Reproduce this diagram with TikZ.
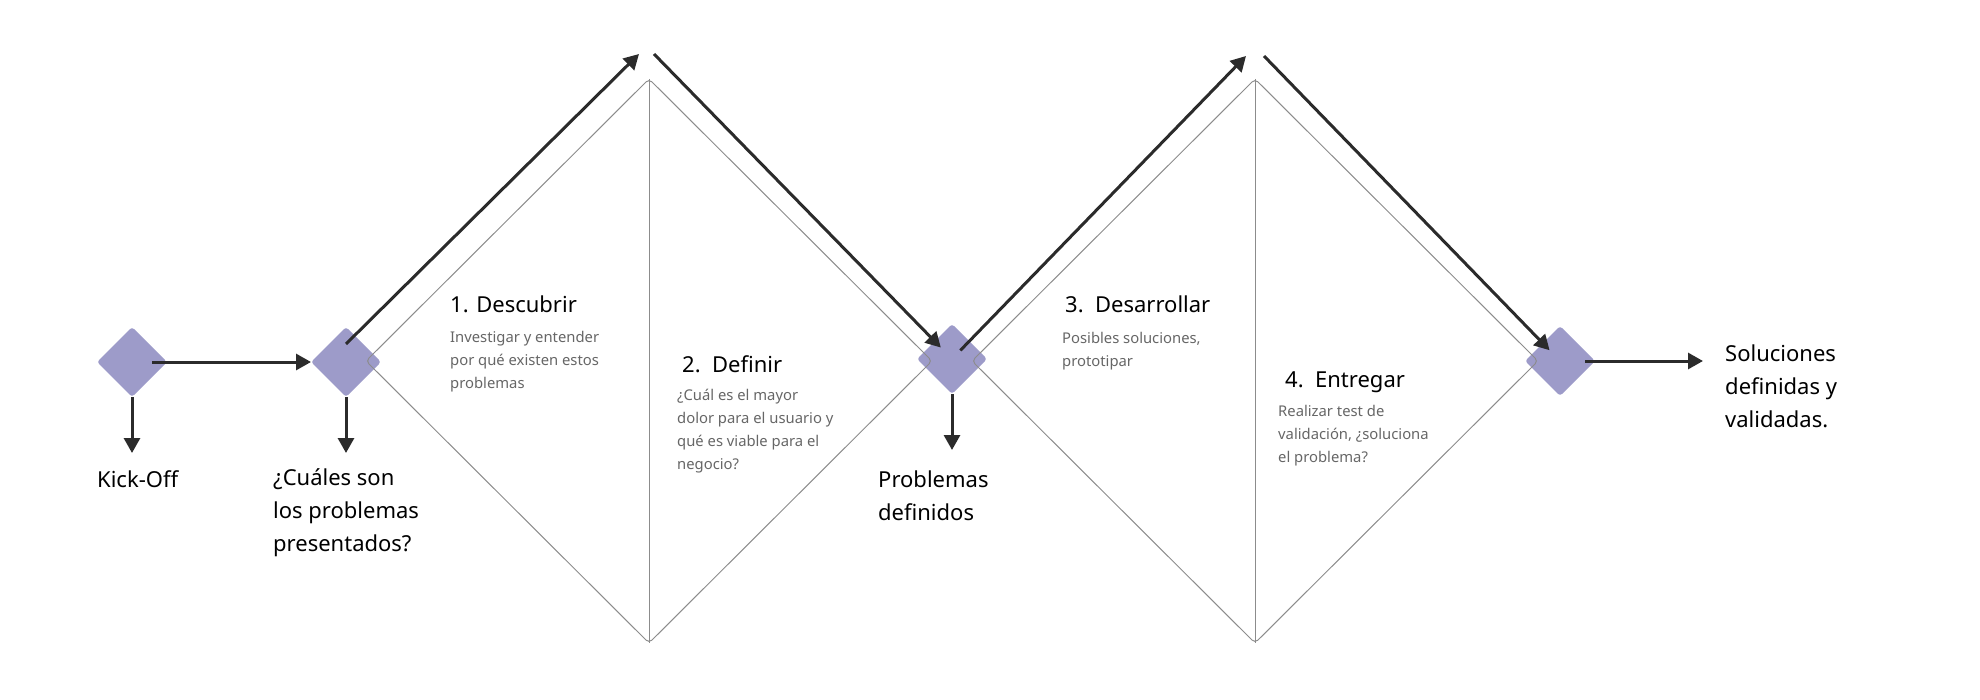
\documentclass[tikz,border=0pt]{standalone}
\usepackage{fontspec}
\setmainfont{Noto Sans}
\usetikzlibrary{shapes.geometric,arrows.meta,positioning}
\definecolor{ink}{HTML}{2B2B2B}
\definecolor{lav}{HTML}{9D9BC9}
\definecolor{rim}{HTML}{8C8C8C}
\definecolor{muted}{HTML}{666666}

\begin{document}
\begin{tikzpicture}[x=1pt, y=-1pt,
    gate/.style={diamond, aspect=1, fill=lav, minimum width=70pt, minimum height=70pt,
                 inner sep=0pt, outer sep=0pt, rounded corners=3pt},
    phase/.style={diamond, aspect=1, draw=rim, line width=1pt, minimum width=566pt,
                  minimum height=564pt, inner sep=0pt, outer sep=0pt, rounded corners=4pt},
    flow/.style={draw=ink, line width=3pt, -{Triangle[length=15pt,width=16pt]}},
    head/.style={font=\fontsize{22}{26}\selectfont, inner sep=0pt, text height=16pt,
                 text depth=5pt, anchor=base west},
    big/.style={font=\fontsize{22}{33}\selectfont, align=left, inner sep=0pt, anchor=north west},
    note/.style={font=\fontsize{14.8}{23}\selectfont, text=muted, align=left, inner sep=0pt},
]
\useasboundingbox (0,0) rectangle (1980,700);

% milestones
\node[gate] (kick) at (132,362) {};
\node[gate] (ask) at (346,362) {};
\node[gate] (def) at (952,359) {};
\node[gate] (sol) at (1560,361) {};

% the two diamonds
\node[phase] (dia1) at (649,361) {};
\node[phase] (dia2) at (1255,361) {};
\draw[rim, line width=1pt] (dia1.north) -- (dia1.south);
\draw[rim, line width=1pt] (dia2.north) -- (dia2.south);

% phase texts
\node[head] (t1) at (450,313) {1. Descubrir};
\node[note, below=13pt of t1.south west, anchor=north west] (n1)
    {Investigar y entender\\por qué existen estos\\problemas};
\node[head] (t2) at (682,372) {2.\ \ Definir};
\node[note, below=12pt of t2.south west, anchor=north west, xshift=-5pt] (n2)
    {¿Cuál es el mayor\\dolor para el usuario y\\qué es viable para el\\negocio?};
\node[head] (t3) at (1065,313) {3.\ \ Desarrollar};
\node[note, below=14pt of t3.south west, anchor=north west, xshift=-3pt] (n3)
    {Posibles soluciones,\\prototipar};
\node[head] (t4) at (1285,387) {4.\ \ Entregar};
\node[note, below=13pt of t4.south west, anchor=north west, xshift=-7pt] (n4)
    {Realizar test de\\validación, ¿soluciona\\el problema?};

% outcomes
\node[big] (kicktxt) at (97,470) {Kick-Off};
\node[big] (asktxt) at (273,468) {¿Cuáles son\\los problemas\\presentados?};
\node[big] (deftxt) at (878,471) {Problemas\\definidos};
\node[big] (soltxt) at (1725,345) {Soluciones\\definidas y\\validadas.};

\coordinate[below=56pt of kick.south] (e1);
\coordinate[below=56pt of ask.south] (e2);
\coordinate[below=56pt of def.south] (e3);
\coordinate (top1) at (639,54);
\coordinate (top2) at (654,54);
\coordinate (top3) at (1246,56);
\coordinate (top4) at (1264,56);

\draw[flow] ([xshift=20pt]kick.center) -- (ask.west);
\draw[flow] (kick.south) -- (e1);
\draw[flow] (ask.south) -- (e2);
\draw[flow] (def.south) -- (e3);
\draw[flow] ([yshift=18pt]ask.center) -- (top1);
\draw[flow, shorten >=16pt] (top2) -- (def.center);
\draw[flow, shorten <=12pt] (def.center) -- (top3);
\draw[flow, shorten >=15pt] (top4) -- (sol.center);
\draw[flow, shorten >=22pt] ([xshift=25pt]sol.center) -- (soltxt.west |- sol.center);

\end{tikzpicture}
\end{document}
